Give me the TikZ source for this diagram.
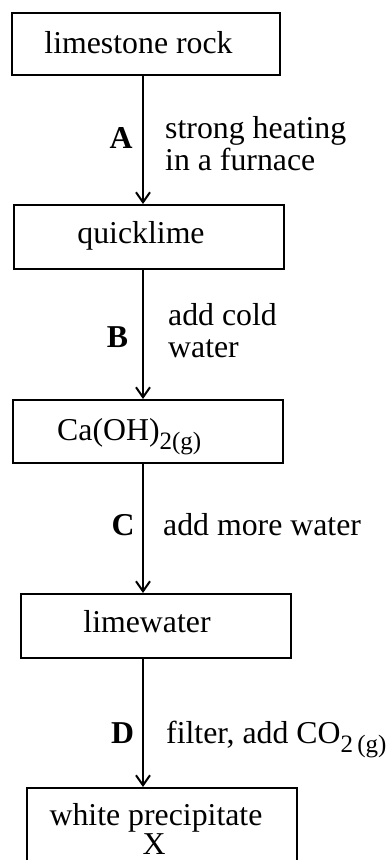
\documentclass[tikz,border=0pt]{standalone}
\usepackage{fontspec}
\setmainfont{Liberation Serif}
\usetikzlibrary{arrows.meta}
\tikzset{
  stagebox/.style={draw, line width=2pt, rectangle, inner sep=0pt,
                   minimum width=270pt, minimum height=64pt},
  body/.style={font=\fontsize{31.8}{32}\selectfont, inner sep=0pt, anchor=base},
  steptag/.style={font=\fontsize{31.8}{32}\selectfont\bfseries, inner sep=0pt, anchor=base},
  note/.style={font=\fontsize{31.8}{32}\selectfont, inner sep=0pt, anchor=base west},
  flow/.style={line width=2pt, -{Straight Barb[length=10pt,width=14pt,line width=2pt]}}
}
\newcommand{\subfig}[1]{\raisebox{-9pt}{\fontsize{25}{25}\selectfont #1}}
\begin{document}
\begin{tikzpicture}[x=1pt,y=-1pt]
  \useasboundingbox (0,0) rectangle (390,860);
  \clip (0,0) rectangle (390,860);

  % stage boxes
  \node[stagebox, minimum width=268pt, minimum height=62pt] (b1) at (146,44) {};
  \node[stagebox] (b2) at (149,237) {};
  \node[stagebox, minimum height=63pt] (b3) at (148,431.5) {};
  \node[stagebox] (b4) at (156,626) {};
  \node[stagebox, minimum height=100pt] (b5) at (162,838) {};

  % box texts
  \node[body] (t1) at (138.5,53) {limestone rock};
  \node[body] (t2) at (141,243) {quicklime};
  \node[body, anchor=base west] (t3) at (57,440) {Ca(OH)\subfig{2(g)}};
  \node[body] (t4) at (147,632) {limewater};
  \node[body] (t5) at (156,825) {white precipitate};
  \node[body] (t6) at (154,854) {X};

  % process arrows
  \coordinate (ax) at (143,0);
  \draw[flow] (b1.south -| ax) -- (b2.north -| ax);
  \draw[flow] (b2.south -| ax) -- (b3.north -| ax);
  \draw[flow] (b3.south -| ax) -- (b4.north -| ax);
  \draw[flow] (b4.south -| ax) -- (b5.north -| ax);

  % step letters
  \node[steptag] (sA) at (121,148) {A};
  \node[steptag] (sB) at (117.5,347) {B};
  \node[steptag] (sC) at (123,535) {C};
  \node[steptag] (sD) at (122.5,743) {D};

  % step conditions
  \node[note] (nA1) at (165,138) {strong heating};
  \node[note] (nA2) at (165,170) {in a furnace};
  \node[note] (nB1) at (168,325) {add cold};
  \node[note] (nB2) at (168,357) {water};
  \node[note] (nC) at (163,535) {add more water};
  \node[note] (nD) at (166,743) {filter, add CO\subfig{2\,(g)}};
\end{tikzpicture}
\end{document}
